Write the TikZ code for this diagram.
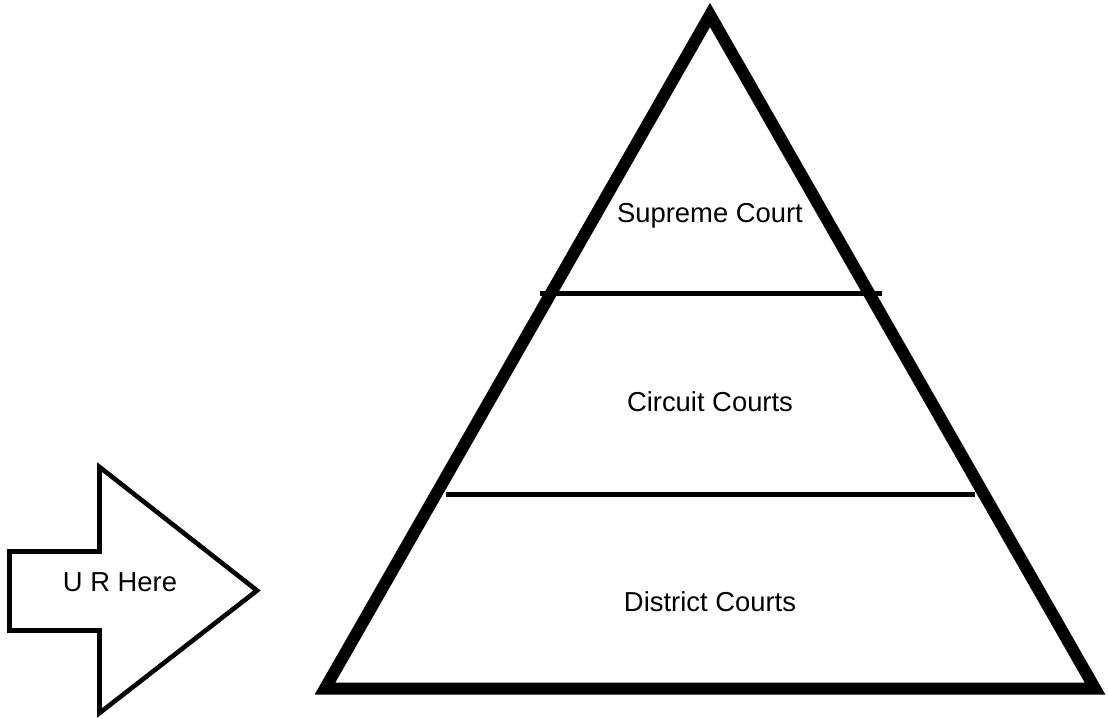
\documentclass[tikz,border=0pt]{standalone}
\usepackage{fontspec}
\setmainfont{Liberation Sans}
\begin{document}
\begin{tikzpicture}[x=1pt,y=-1pt,
  lbl/.style={anchor=base,inner sep=0pt,font=\fontsize{27.4}{31}\selectfont},
  pyr/.style={line width=12pt,line join=miter,miter limit=10},
  tier/.style={line width=4.5pt},
  arrowshape/.style={line width=4.6pt,line join=miter,miter limit=10}]
\useasboundingbox (0,0) rectangle (1108,718);
% pyramid
\coordinate (apex) at (710,15);
\coordinate (bl) at (325,688.5);
\coordinate (br) at (1095,688.5);
\draw[pyr] (apex) -- (bl) -- (br) -- cycle;
% tier lines
\coordinate (t1l) at (540,293.5);
\coordinate (t1r) at (882,293.5);
\coordinate (t2l) at (446,494.5);
\coordinate (t2r) at (975,494.5);
\draw[tier] (t1l) -- (t1r);
\draw[tier] (t2l) -- (t2r);
% labels
\node[lbl] (supreme) at (710,222.5) {Supreme Court};
\node[lbl] (circuit) at (710,411.5) {Circuit Courts};
\node[lbl] (district) at (710,611.5) {District Courts};
% arrow
\draw[arrowshape] (9.5,551.5) -- (99.5,551.5) -- (99.5,467) -- (257,590.5) -- (99.5,713) -- (99.5,630.5) -- (9.5,630.5) -- cycle;
\node[lbl] (here) at (120,591) {U R Here};
\end{tikzpicture}
\end{document}
